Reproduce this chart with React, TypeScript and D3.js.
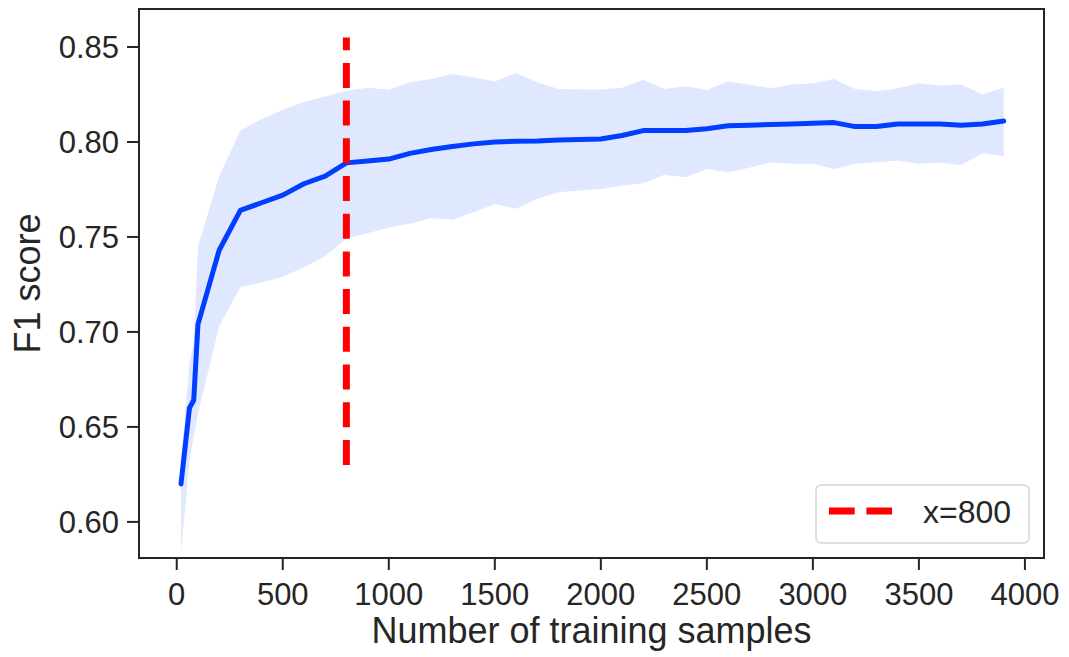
import React, { useEffect, useRef } from "react";
import * as d3 from "d3";

// training set sizes and F1 (mean with confidence band)
const samples = [20, 60, 80, 100, 200, 300, 400, 500, 600, 700, 800, 900, 1000, 1100, 1200, 1300, 1400, 1500, 1600, 1700, 1800, 1900, 2000, 2100, 2200, 2300, 2400, 2500, 2600, 2700, 2800, 2900, 3000, 3100, 3200, 3300, 3400, 3500, 3600, 3700, 3800, 3900];
const meanF1 = [0.620, 0.660, 0.664, 0.704, 0.743, 0.764, 0.768, 0.772, 0.778, 0.782, 0.789, 0.790, 0.791, 0.794, 0.796, 0.7976, 0.799, 0.800, 0.8004, 0.8005, 0.801, 0.8013, 0.8016, 0.8034, 0.806, 0.806, 0.806, 0.807, 0.8085, 0.8088, 0.8092, 0.8095, 0.8098, 0.8102, 0.8081, 0.8081, 0.8095, 0.8095, 0.8095, 0.8088, 0.8095, 0.811];
const upperF1 = [0.632, 0.683, 0.695, 0.745, 0.782, 0.806, 0.812, 0.817, 0.821, 0.824, 0.827, 0.8285, 0.8275, 0.8314, 0.8332, 0.8358, 0.8341, 0.8318, 0.8362, 0.8314, 0.8279, 0.8276, 0.8276, 0.8285, 0.8327, 0.8279, 0.8293, 0.8274, 0.8318, 0.8302, 0.8283, 0.8302, 0.8309, 0.8332, 0.8279, 0.8267, 0.8283, 0.8309, 0.8297, 0.8302, 0.825, 0.8285];
const lowerF1 = [0.584, 0.632, 0.645, 0.657, 0.703, 0.7235, 0.726, 0.729, 0.734, 0.740, 0.749, 0.752, 0.755, 0.757, 0.760, 0.759, 0.763, 0.7674, 0.7648, 0.7701, 0.7735, 0.7744, 0.7753, 0.7771, 0.7783, 0.7828, 0.7814, 0.7858, 0.7841, 0.7864, 0.7893, 0.7885, 0.7885, 0.7858, 0.7885, 0.7893, 0.7902, 0.7885, 0.789, 0.7879, 0.794, 0.7925];

const xTicks = [0, 500, 1000, 1500, 2000, 2500, 3000, 3500, 4000];
const yTicks = [0.6, 0.65, 0.7, 0.75, 0.8, 0.85];

const cutoff = 800;
const cutoffSpan = [0.63, 0.855];
const legendLabel = "x=800";

const FONT = "'Liberation Sans', Arial, 'DejaVu Sans', sans-serif";
const INK = "#262626";
const BLUE = "#023eff";

export default function App() {
    const ref = useRef<SVGSVGElement>(null);

    const width = 1069;
    const height = 657;
    const plot = { left: 139, right: 1044, top: 9, bottom: 558 };

    useEffect(() => {
        const svg = d3.select(ref.current);
        svg.selectAll("*").remove();

        const x = d3.scaleLinear().domain([-178, 4090]).range([plot.left, plot.right]);
        const y = d3.scaleLinear().domain([0.581, 0.87]).range([plot.bottom, plot.top]);

        const rows = samples.map((s, i) => ({
            s, m: meanF1[i], lo: lowerF1[i], hi: upperF1[i],
        }));

        const area = d3.area<any>()
            .x((d) => x(d.s))
            .y0((d) => y(d.lo))
            .y1((d) => y(d.hi));

        const line = d3.line<any>()
            .x((d) => x(d.s))
            .y((d) => y(d.m));

        svg.append("path")
            .attr("d", area(rows))
            .attr("fill", BLUE)
            .attr("fill-opacity", 0.12);

        svg.append("path")
            .attr("d", line(rows))
            .attr("fill", "none")
            .attr("stroke", BLUE)
            .attr("stroke-width", 5)
            .attr("stroke-linejoin", "round")
            .attr("stroke-linecap", "round");

        // dashed marker, drawn bottom-up so the dash pattern starts at ymin
        svg.append("line")
            .attr("x1", x(cutoff))
            .attr("x2", x(cutoff))
            .attr("y1", y(cutoffSpan[0]))
            .attr("y2", y(cutoffSpan[1]))
            .attr("stroke", "#ff0000")
            .attr("stroke-width", 7)
            .attr("stroke-dasharray", "25,12.7");

        // frame
        svg.append("rect")
            .attr("x", plot.left)
            .attr("y", plot.top)
            .attr("width", plot.right - plot.left)
            .attr("height", plot.bottom - plot.top)
            .attr("fill", "none")
            .attr("stroke", INK)
            .attr("stroke-width", 2);

        const xAxis = svg.append("g");
        xTicks.forEach((t) => {
            xAxis.append("line")
                .attr("x1", x(t)).attr("x2", x(t))
                .attr("y1", plot.bottom).attr("y2", plot.bottom + 12)
                .attr("stroke", INK).attr("stroke-width", 2);
            xAxis.append("text")
                .attr("x", x(t))
                .attr("y", 605)
                .attr("text-anchor", "middle")
                .style("font-family", FONT)
                .style("font-size", "31px")
                .style("fill", INK)
                .text(String(t));
        });

        const yAxis = svg.append("g");
        yTicks.forEach((t) => {
            yAxis.append("line")
                .attr("x1", plot.left - 12).attr("x2", plot.left)
                .attr("y1", y(t)).attr("y2", y(t))
                .attr("stroke", INK).attr("stroke-width", 2);
            yAxis.append("text")
                .attr("x", 119)
                .attr("y", y(t))
                .attr("dy", "0.36em")
                .attr("text-anchor", "end")
                .style("font-family", FONT)
                .style("font-size", "31px")
                .style("fill", INK)
                .text(t.toFixed(2));
        });

        svg.append("text")
            .attr("x", (plot.left + plot.right) / 2)
            .attr("y", 643)
            .attr("text-anchor", "middle")
            .style("font-family", FONT)
            .style("font-size", "36px")
            .style("fill", INK)
            .text("Number of training samples");

        svg.append("text")
            .attr("transform", `translate(40, ${(plot.top + plot.bottom) / 2}) rotate(-90)`)
            .attr("text-anchor", "middle")
            .style("font-family", FONT)
            .style("font-size", "36px")
            .style("fill", INK)
            .text("F1 score");

        // legend
        const lg = svg.append("g").attr("transform", "translate(816, 485)");
        lg.append("rect")
            .attr("width", 213)
            .attr("height", 58)
            .attr("rx", 5)
            .attr("fill", "#ffffff")
            .attr("stroke", "#d6d6d6")
            .attr("stroke-width", 1.5);
        lg.append("line")
            .attr("x1", 13).attr("x2", 77)
            .attr("y1", 26).attr("y2", 26)
            .attr("stroke", "#ff0000")
            .attr("stroke-width", 7)
            .attr("stroke-dasharray", "25.7,11.7");
        lg.append("text")
            .attr("x", 107)
            .attr("y", 38)
            .style("font-family", FONT)
            .style("font-size", "32px")
            .style("fill", INK)
            .text(legendLabel);
    }, []);

    return (
        <svg
            ref={ref}
            width={width}
            height={height}
            style={{ position: "absolute", left: 0, top: 0, background: "#ffffff" }}
        />
    );
}
